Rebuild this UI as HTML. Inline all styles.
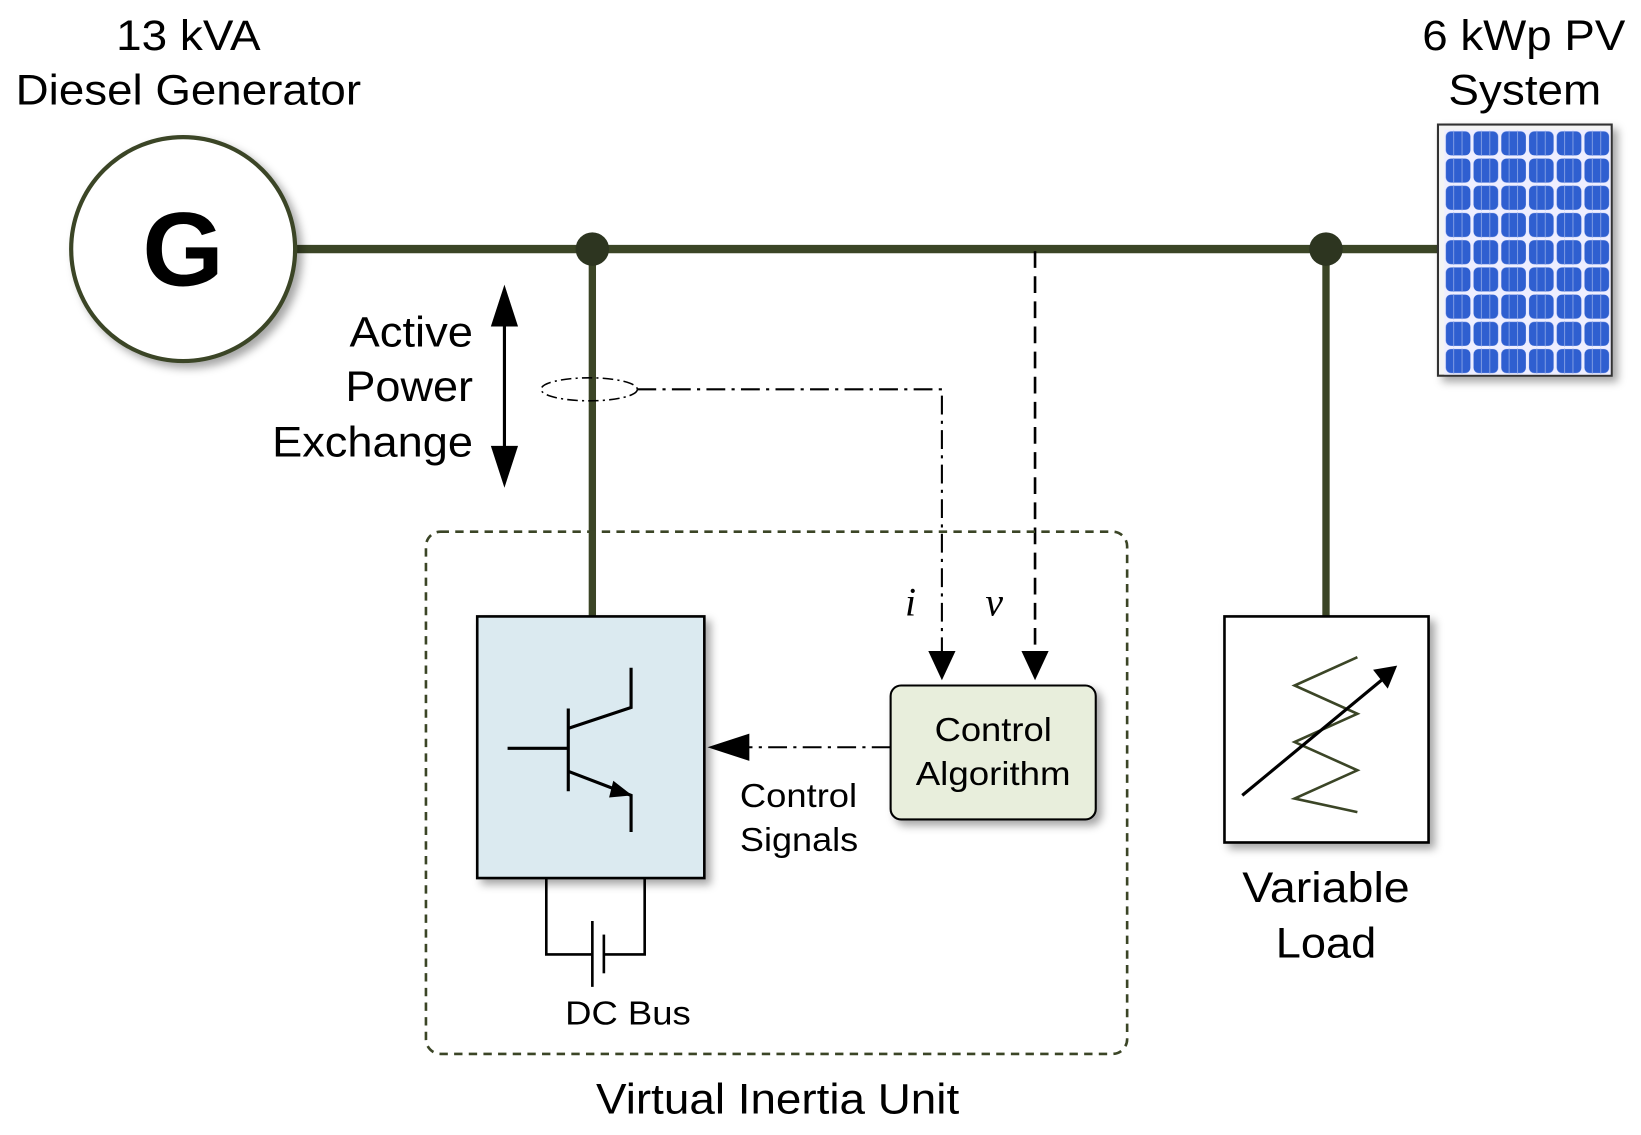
<!DOCTYPE html>
<html><head><style>html,body{margin:0;padding:0;background:#fff}svg{display:block}</style></head>
<body>
<svg width="1641" height="1135" viewBox="0 0 1568 1084.5" preserveAspectRatio="none" xmlns="http://www.w3.org/2000/svg" font-family="Liberation Sans, sans-serif">
<defs>
<filter id="sh" x="-20%" y="-20%" width="150%" height="150%"><feDropShadow dx="5" dy="5" stdDeviation="4" flood-color="#000" flood-opacity="0.35"/></filter>
<pattern id="cells" x="1380" y="124" width="26.5" height="26" patternUnits="userSpaceOnUse">
<rect x="0" y="0" width="26.5" height="26" fill="#eef"/>
<rect x="1.5" y="1.5" width="23.5" height="23" rx="5" fill="#2f5fd0"/>
<line x1="9" y1="1" x2="9" y2="25" stroke="#8fa8e6" stroke-width="0.8"/>
<line x1="17" y1="1" x2="17" y2="25" stroke="#8fa8e6" stroke-width="0.8"/>
</pattern>
</defs>
<g font-size="41" fill="#000" text-anchor="middle" lengthAdjust="spacingAndGlyphs">
<text x="180" y="48" textLength="138" lengthAdjust="spacingAndGlyphs">13 kVA</text>
<text x="180" y="100" textLength="330" lengthAdjust="spacingAndGlyphs">Diesel Generator</text>
<text x="1456" y="48" textLength="194" lengthAdjust="spacingAndGlyphs">6 kWp PV</text>
<text x="1457" y="100" textLength="146" lengthAdjust="spacingAndGlyphs">System</text>
</g>
<line x1="283" y1="238" x2="1380" y2="238" stroke="#3b4526" stroke-width="8"/>
<line x1="566" y1="238" x2="566" y2="590" stroke="#3b4526" stroke-width="7"/>
<line x1="1267" y1="238" x2="1267" y2="590" stroke="#3b4526" stroke-width="7"/>
<circle cx="566" cy="238" r="16" fill="#2d3520"/>
<circle cx="1267" cy="238" r="16" fill="#2d3520"/>
<circle cx="175" cy="238" r="107" fill="#fff" stroke="#3b4526" stroke-width="4" filter="url(#sh)"/>
<text x="175" y="273" font-size="100" font-weight="bold" text-anchor="middle">G</text>
<rect x="1374" y="119" width="166" height="240" fill="#f4f4f4" stroke="#333" stroke-width="2" filter="url(#sh)"/>
<rect x="1380" y="124" width="159" height="234" fill="url(#cells)"/>
<g font-size="41" text-anchor="end">
<text x="452" y="331" textLength="118" lengthAdjust="spacingAndGlyphs">Active</text>
<text x="452" y="383" textLength="122" lengthAdjust="spacingAndGlyphs">Power</text>
<text x="452" y="436" textLength="192" lengthAdjust="spacingAndGlyphs">Exchange</text>
</g>
<line x1="482" y1="300" x2="482" y2="440" stroke="#000" stroke-width="3"/>
<path d="M469,312 L482,272 L495,312 z"/>
<path d="M469,426 L482,466 L495,426 z"/>
<ellipse cx="563" cy="372" rx="46" ry="11" fill="none" stroke="#000" stroke-width="1.5" stroke-dasharray="10,4,2,4"/>
<path d="M609,372 L900,372 L900,625" fill="none" stroke="#000" stroke-width="2" stroke-dasharray="18,6,3,6"/>
<path d="M887,622 L900,650 L913,622 z"/>
<line x1="989" y1="240" x2="989" y2="625" stroke="#000" stroke-width="2.5" stroke-dasharray="16,8"/>
<path d="M976,622 L989,650 L1002,622 z"/>
<text x="870" y="588" font-family="Liberation Serif, serif" font-style="italic" font-size="38" text-anchor="middle">i</text>
<text x="950" y="588" font-family="Liberation Serif, serif" font-style="italic" font-size="38" text-anchor="middle">v</text>
<rect x="407" y="508" width="670" height="499" rx="14" fill="none" stroke="#3b4526" stroke-width="2.5" stroke-dasharray="8,6"/>
<text x="743" y="1064" font-size="41" text-anchor="middle" textLength="347" lengthAdjust="spacingAndGlyphs">Virtual Inertia Unit</text>
<rect x="456" y="589" width="217" height="250" fill="#dbeaf0" stroke="#000" stroke-width="2.5" filter="url(#sh)"/>
<g stroke="#000" stroke-width="3" fill="none">
<line x1="485" y1="715" x2="543" y2="715"/>
<line x1="543" y1="677" x2="543" y2="756"/>
<polyline points="543,696 603,676 603,638"/>
<polyline points="543,737 603,760 603,795"/>
</g>
<path d="M586,746 L604,760 L582,762 z"/>
<g stroke="#000" stroke-width="2.5" fill="none">
<polyline points="522,839 522,912 566,912"/>
<polyline points="616,839 616,912 577,912"/>
<line x1="566" y1="880" x2="566" y2="943"/>
<line x1="577" y1="893" x2="577" y2="930"/>
</g>
<text x="600" y="979" font-size="32" text-anchor="middle" textLength="120" lengthAdjust="spacingAndGlyphs">DC Bus</text>
<rect x="851" y="655" width="196" height="128" rx="10" fill="#e8eedc" stroke="#000" stroke-width="2" filter="url(#sh)"/>
<text x="949" y="708" font-size="32" text-anchor="middle" textLength="112" lengthAdjust="spacingAndGlyphs">Control</text>
<text x="949" y="750" font-size="32" text-anchor="middle" textLength="148" lengthAdjust="spacingAndGlyphs">Algorithm</text>
<line x1="851" y1="714" x2="712" y2="714" stroke="#000" stroke-width="2" stroke-dasharray="18,6,3,6"/>
<path d="M716,701 L676,714 L716,727 z"/>
<text x="707" y="771" font-size="32" textLength="112" lengthAdjust="spacingAndGlyphs">Control</text>
<text x="707" y="813" font-size="32" textLength="113" lengthAdjust="spacingAndGlyphs">Signals</text>
<rect x="1170" y="589" width="195" height="216" fill="#fff" stroke="#000" stroke-width="2.5" filter="url(#sh)"/>
<polyline points="1297,628 1237,655 1297,682 1237,709 1297,736 1237,763 1297,776" fill="none" stroke="#3b4526" stroke-width="2.5"/>
<line x1="1187" y1="760" x2="1320" y2="650" stroke="#000" stroke-width="3"/>
<path d="M1312,640 L1335,636 L1326,658 z"/>
<text x="1267" y="862" font-size="41" text-anchor="middle" textLength="160" lengthAdjust="spacingAndGlyphs">Variable</text>
<text x="1267" y="915" font-size="41" text-anchor="middle" textLength="96" lengthAdjust="spacingAndGlyphs">Load</text>
</svg>
</body></html>
